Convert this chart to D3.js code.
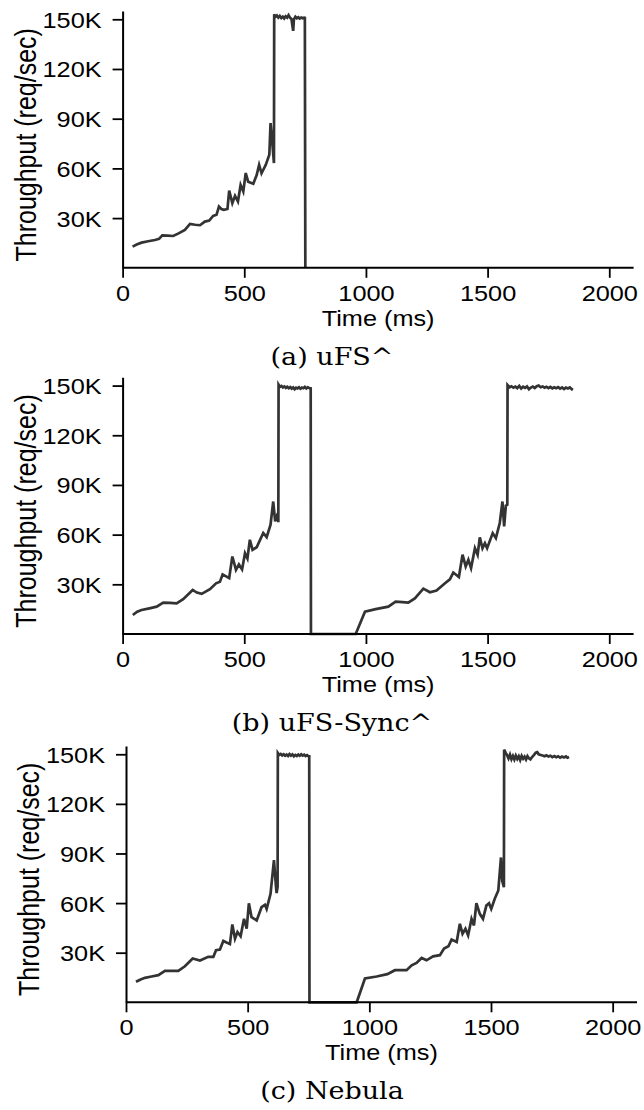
<!DOCTYPE html>
<html>
  <head>
    <meta charset="utf-8">
    <title>Throughput over time</title>
    <script src="https://cdn.jsdelivr.net/npm/d3@7"></script>
    <style>
      body { margin: 0; background: #fff; }
      svg { display: block; }
      .axis path, .axis line { stroke: #000; }
      .axis path { stroke-width: 2; }
      .axis line { stroke-width: 1.8; }
      .sans { font-family: "Liberation Sans", Arial, sans-serif; fill: #000; }
      .caption { font-family: "DejaVu Serif", serif; fill: #000; }
      .series { fill: none; stroke: #333; stroke-width: 2.7; }
    </style>
  </head>
  <body>
    <div id="chart"></div>
    <script>
      // panel captions
      var captions = ["(a) uFS^", "(b) uFS-Sync^", "(c) Nebula"];
      var xTicks = [0, 500, 1000, 1500, 2000];
      var yTicks = [30, 60, 90, 120, 150];

      // [time ms, throughput K req/sec]
      var ufsData = [
        [41,12.8],[60,14.2],[78,15.2],[105,16],[133,16.8],[150,17.5],[163,19.6],[185,19.4],[208,19.2],[230,20.8],
        [256,22.9],[277,26.5],[298,26],[318,25.7],[338,27.9],[356,28.5],[372,31.3],[386,32],[396,37],[406,35.5],
        [416,35],[431,35.5],[438,46.6],[451,39],[462,43.4],[474,40],[485,50],[496,46],[506,57.2],[516,52],
        [537,50.7],[551,56],[561,62.2],[571,57],[588,62],[603,68.2],[608,87.4],[616,74],[622,63.2],
        [623,153],[628,151.5],[634,152.3],[640,151],[646,152],[652,150.8],[658,151.6],[664,150.5],[670,151.8],
        [676,151],[682,152.5],[688,151],[694,150.2],[698,146],[701,143],[704,150],[710,151.5],[716,150.6],
        [722,151.2],[728,150.4],[734,151],[740,150.6],[746,151],[749,150.9],[751,0]
      ];
      var ufsSyncData = [
        [42,11.5],[60,13.5],[78,14.5],[110,15.5],[140,16.5],[167,18.9],[195,18.8],[222,18.5],[249,21],[288,26.6],
        [305,25],[325,24.2],[359,27],[384,30.6],[400,31.5],[411,36],[438,33.7],[451,46.8],[466,38.7],[478,42],
        [491,39],[503,48.8],[513,45.6],[523,56.9],[534,50.8],[551,52.4],[565,56.8],[578,61],[592,58.5],[608,66],
        [619,80],[627,68],[638,73],[640,67.5],
        [641,150.6],[647,149.2],[653,149.8],[659,148.9],[665,149.5],[671,148.6],[677,149.3],[683,148.4],[689,149.1],
        [695,148.2],[701,148.9],[707,147.8],[713,148.7],[719,148.3],[725,149],[731,148.1],[737,148.8],[743,148.4],
        [749,149.2],[755,148.3],[761,148.9],[767,148.5],[773,148.3],[774,0],
        [958,0],[996,13.5],[1040,15],[1092,16.5],[1122,19.5],[1150,19.2],[1174,18.9],[1201,21.5],[1236,27.4],
        [1263,25.2],[1290,26.2],[1325,30.6],[1345,33],[1359,37.1],[1382,34.4],[1397,47.9],[1410,40.8],[1421,44.8],
        [1432,39.8],[1448,51.8],[1459,47.9],[1468,58.3],[1479,51.8],[1489,54.8],[1498,51.8],[1521,60.9],[1534,57.9],
        [1550,67],[1561,80],[1568,65],[1575,77.5],[1581,78],
        [1582,150.3],[1590,149],[1598,149.6],[1606,148.7],[1614,149.4],[1622,148.5],[1630,149.8],[1638,148.2],
        [1646,149.3],[1654,148.6],[1662,149.5],[1670,147.8],[1678,148.8],[1686,149.4],[1694,148.5],[1702,149.6],
        [1710,150],[1718,149],[1726,149.5],[1734,148.7],[1742,149.3],[1750,148.5],[1758,149.2],[1766,148.3],
        [1774,149],[1782,148.4],[1790,149.1],[1798,148.2],[1806,148.9],[1814,147.9],[1822,148.8],[1830,148.3],
        [1838,148.9],[1846,147.8],[1849,148.5]
      ];
      var nebulaData = [
        [41,12.4],[60,13.8],[78,14.8],[105,15.6],[133,16.4],[160,19],[190,19],[215,19],[242,21.8],[274,26.5],
        [304,25.3],[338,27.5],[359,27.5],[370,31.5],[386,31.9],[400,37.1],[427,35.2],[437,47.1],[448,38.5],[458,42.5],
        [471,39.9],[485,50.5],[496,44.5],[505,59.9],[516,51.5],[537,49.5],[557,57.5],[571,59],[578,56.5],[594,65.6],
        [608,86],[616,70.6],[619,66],[623,70],
        [624,150.8],[630,149.6],[636,150.2],[642,149.3],[648,150],[654,149.1],[660,149.8],[666,149],[672,150.1],
        [678,149.2],[684,149.9],[690,148.8],[696,149.6],[702,149],[708,149.8],[714,149.1],[720,150],[726,149.2],
        [732,149.7],[738,148.9],[744,149.5],[750,148.8],[753,148.8],[754,0],
        [948,0],[982,14.4],[1030,15.6],[1074,17],[1105,19.4],[1153,19.4],[1174,22.4],[1194,23.8],[1215,26.8],
        [1235,25.4],[1262,27.8],[1290,28.5],[1307,32.5],[1325,33.9],[1338,37.9],[1359,36.5],[1372,47.5],[1383,41.5],
        [1395,44.5],[1406,40.5],[1420,50.5],[1430,46.5],[1440,59.9],[1454,53.5],[1467,50.5],[1481,58.5],[1492,59.9],
        [1501,56.5],[1515,62.5],[1530,67.6],[1541,87.6],[1546,73.5],[1553,69.6],
        [1554,152.8],[1560,151],[1566,149.5],[1572,147.5],[1578,149.8],[1584,147],[1590,149],[1596,146.8],[1602,149.2],
        [1608,147.2],[1614,148.8],[1620,146.5],[1626,149],[1632,147.3],[1638,148.6],[1644,146.8],[1650,148.9],
        [1656,147.5],[1662,146.9],[1668,148.2],[1676,149.5],[1684,151],[1690,151.3],[1696,150],[1704,149.6],
        [1712,149.2],[1720,148.8],[1728,149.4],[1736,148.6],[1744,149.1],[1752,148.3],[1760,148.9],[1768,148.2],
        [1776,148.8],[1784,147.9],[1792,148.6],[1800,148.1],[1808,148.7],[1814,147.9],[1821,148.3]
      ];

      // the source figure is a bit wider than tall, so text is stretched sideways
      var sx = 1.15;

      var svg = d3.select("#chart").append("svg")
        .attr("width", 644)
        .attr("height", 1110);

      var panels = [
        { data: ufsData, caption: captions[0], left: 122.6, top: 11, bottom: 267.8 },
        { data: ufsSyncData, caption: captions[1], left: 122.6, top: 377.3, bottom: 634 },
        { data: nebulaData, caption: captions[2], left: 126, top: 746, bottom: 1002.3 }
      ];

      panels.forEach(function(p) {
        var x = d3.scaleLinear().domain([0, 2100]).range([p.left, p.left + 511]);
        var y = d3.scaleLinear().domain([0, 155]).range([p.bottom, p.top]);
        var g = svg.append("g");

        // series
        g.append("path")
          .datum(p.data)
          .attr("class", "series")
          .attr("d", d3.line()
            .x(function(d) { return x(d[0]); })
            .y(function(d) { return y(d[1]); }));

        // y axis
        var yAxis = g.append("g")
          .attr("class", "axis")
          .attr("transform", "translate(" + p.left + ",0)")
          .call(d3.axisLeft(y).tickValues(yTicks).tickSize(10).tickSizeOuter(0)
            .tickFormat(function(d) { return d + "K"; }));
        yAxis.selectAll("text")
          .attr("class", "sans")
          .attr("x", 0)
          .attr("dy", null)
          .attr("transform", "translate(-21,8) scale(" + sx + ",1)")
          .style("font-size", "22px");

        // x axis
        var xAxis = g.append("g")
          .attr("class", "axis")
          .attr("transform", "translate(0," + p.bottom + ")")
          .call(d3.axisBottom(x).tickValues(xTicks).tickSize(10).tickSizeOuter(0)
            .tickFormat(d3.format("d")));
        xAxis.selectAll("text")
          .attr("class", "sans")
          .attr("y", 0)
          .attr("dy", null)
          .attr("transform", "translate(0,33) scale(" + sx + ",1)")
          .style("font-size", "22px");
        xAxis.selectAll(".domain").attr("d", "M" + x(0) + ",0H" + x(2100));

        // axis titles
        g.append("text")
          .attr("class", "sans")
          .attr("text-anchor", "middle")
          .attr("transform", "translate(" + (p.left + 255.5) + "," + (p.bottom + 58) + ") scale(" + sx + ",1)")
          .style("font-size", "22px")
          .text("Time (ms)");
        g.append("text")
          .attr("class", "sans")
          .attr("text-anchor", "middle")
          .attr("transform", "translate(" + (p.left - 87) + "," + (p.bottom - 123) + ") scale(1.15,1) rotate(-90)")
          .style("font-size", "25px")
          .text("Throughput (req/sec)");

        // caption
        g.append("text")
          .attr("class", "caption")
          .attr("text-anchor", "middle")
          .attr("transform", "translate(332," + (p.bottom + 97) + ") scale(1.08,1)")
          .style("font-size", "25px")
          .text(p.caption);
      });
    </script>
  </body>
</html>
